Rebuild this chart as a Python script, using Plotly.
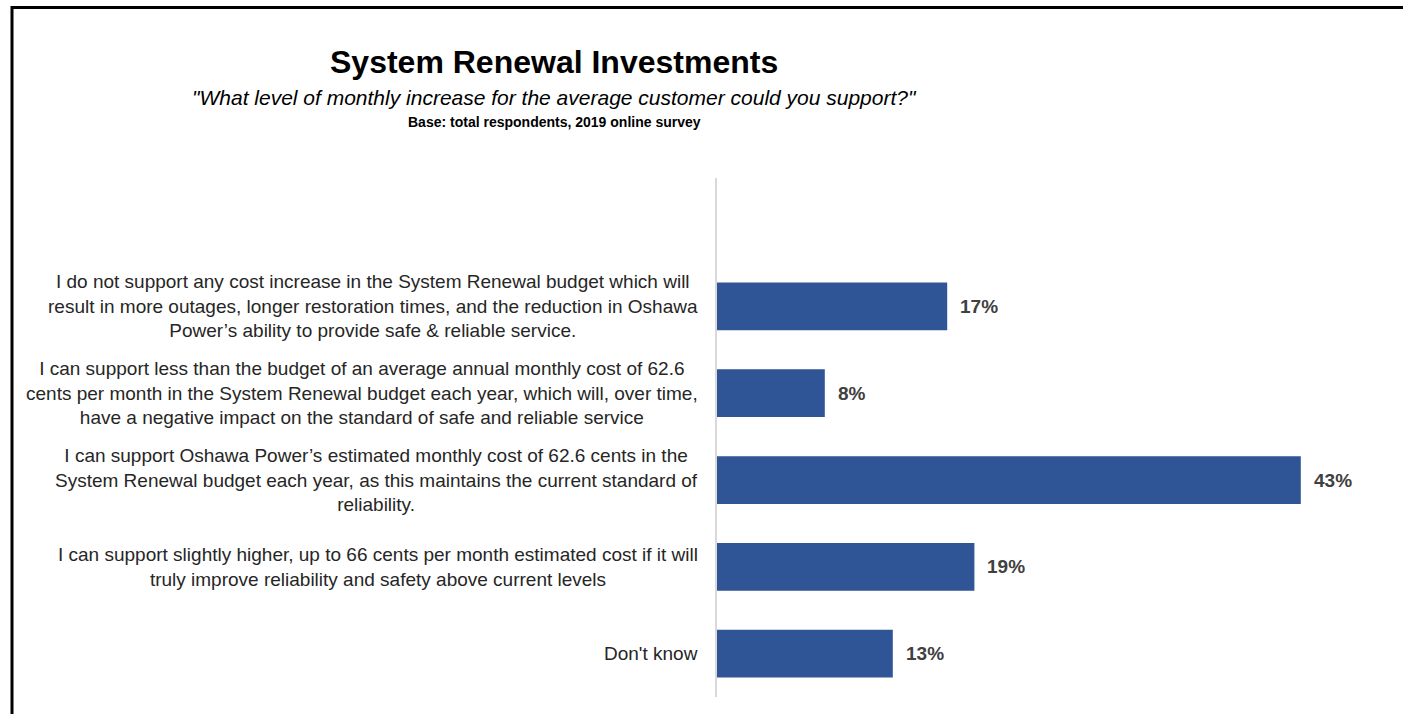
import plotly.graph_objects as go

# Survey responses (top to bottom) and share of respondents
categories = [
    "I do not support any cost increase in the System Renewal budget which will<br>"
    "result in more outages, longer restoration times, and the reduction in Oshawa<br>"
    "Power\u2019s ability to provide safe &amp; reliable service.",
    "I can support less than the budget of an average annual monthly cost of 62.6<br>"
    "cents per month in the System Renewal budget each year, which will, over time,<br>"
    "have a negative impact on the standard of safe and reliable service",
    "I can support Oshawa Power\u2019s estimated monthly cost of 62.6 cents in the<br>"
    "System Renewal budget each year, as this maintains the current standard of<br>"
    "reliability.",
    "I can support slightly higher, up to 66 cents per month estimated cost if it will<br>"
    "truly improve reliability and safety above current levels",
    "Don't know",
]
values = [17, 8, 43, 19, 13]
value_labels = ["17%", "8%", "43%", "19%", "13%"]

W, H = 1403, 714
PLOT_L, PLOT_R, PLOT_T, PLOT_B = 716, 1396, 178, 697
X_MAX = 50

def px_x(px):
    return (px - PLOT_L) / (PLOT_R - PLOT_L)

def px_y(py):
    return (PLOT_B - py) / (PLOT_B - PLOT_T)

LABEL_FONT = "Liberation Sans Narrow, Arial Narrow, sans-serif"
BAR_COLOR = "#2F5597"

positions = list(range(len(categories)))

fig = go.Figure(
    go.Bar(
        x=values,
        y=positions,
        orientation="h",
        width=0.55,
        marker=dict(color=BAR_COLOR, line=dict(width=0)),
        hoverinfo="skip",
    )
)

annotations = []
for pos, cat in zip(positions, categories):
    annotations.append(dict(
        x=px_x(700), xref="paper", y=pos, yref="y",
        text=cat, showarrow=False, xanchor="right", yanchor="middle",
        align="center", font=dict(family=LABEL_FONT, size=19, color="#262626"),
    ))
for pos, v, lbl in zip(positions, values, value_labels):
    annotations.append(dict(
        x=v, xref="x", y=pos, yref="y", text="<b>" + lbl + "</b>",
        showarrow=False, xanchor="left", yanchor="middle", xshift=11,
        font=dict(family=LABEL_FONT, size=19, color="#404040"),
    ))

TITLE_CX = px_x(554)
annotations += [
    dict(x=TITLE_CX, y=px_y(62), xref="paper", yref="paper", showarrow=False,
         text="<b>System Renewal Investments</b>", xanchor="center", yanchor="middle",
         font=dict(family=LABEL_FONT, size=32, color="#000000")),
    dict(x=TITLE_CX, y=px_y(98), xref="paper", yref="paper", showarrow=False,
         text="<i>\"What level of monthly increase for the average customer could you support?\"</i>",
         xanchor="center", yanchor="middle",
         font=dict(family=LABEL_FONT, size=21, color="#000000")),
    dict(x=TITLE_CX, y=px_y(122), xref="paper", yref="paper", showarrow=False,
         text="<b>Base: total respondents, 2019 online survey</b>",
         xanchor="center", yanchor="middle",
         font=dict(family=LABEL_FONT, size=14, color="#000000")),
]

shapes = [
    # frame: top and left edges
    dict(type="line", xref="paper", yref="paper",
         x0=px_x(11), x1=px_x(1403), y0=px_y(7.5), y1=px_y(7.5),
         line=dict(color="#000000", width=3)),
    dict(type="line", xref="paper", yref="paper",
         x0=px_x(12), x1=px_x(12), y0=px_y(6), y1=px_y(714),
         line=dict(color="#000000", width=3)),
    # category axis line
    dict(type="line", xref="paper", yref="paper",
         x0=0, x1=0, y0=0, y1=1, line=dict(color="#D9D9D9", width=2)),
]

fig.update_layout(
    width=W, height=H,
    margin=dict(l=PLOT_L, r=W - PLOT_R, t=PLOT_T, b=H - PLOT_B, pad=0),
    paper_bgcolor="white", plot_bgcolor="white",
    showlegend=False,
    xaxis=dict(range=[0, X_MAX], visible=False, fixedrange=True),
    yaxis=dict(range=[4.5, -1.48], visible=False, fixedrange=True),
    annotations=annotations,
    shapes=shapes,
)

fig.write_html("out.html", config={"displayModeBar": False})
